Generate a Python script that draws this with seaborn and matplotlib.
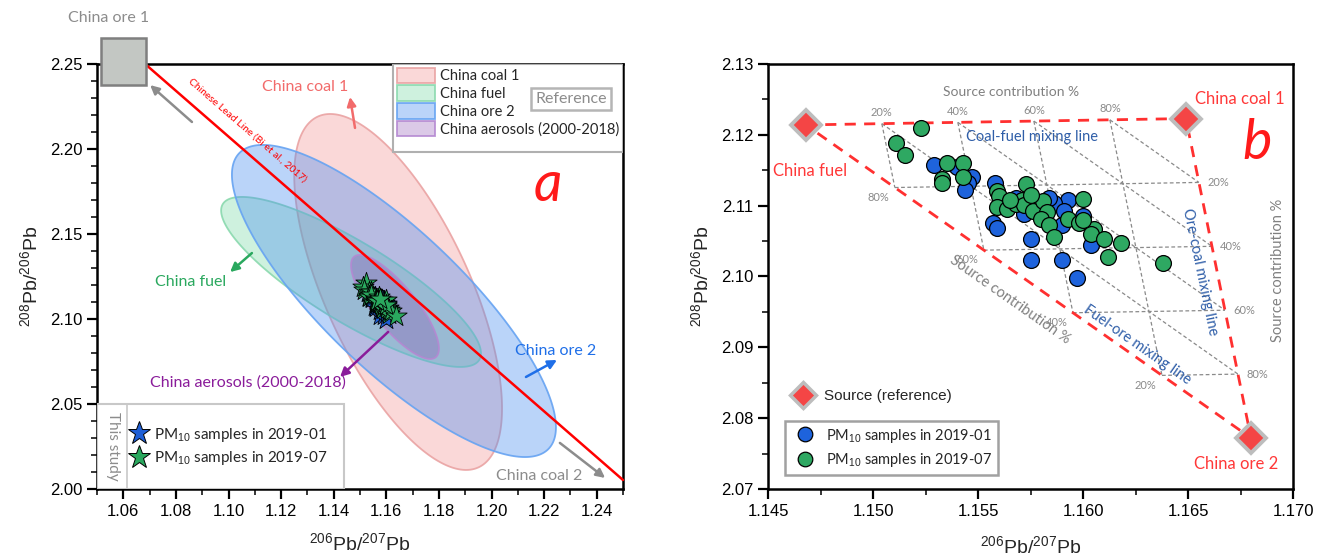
import numpy as np
import pandas as pd
import matplotlib
matplotlib.use("Agg")
import matplotlib.pyplot as plt
import matplotlib.colors as mcolors
import seaborn as sns
from matplotlib.patches import Rectangle, Patch
from matplotlib.lines import Line2D
from matplotlib.ticker import MultipleLocator

# ---------------- data ----------------
jan_x = [1.1529, 1.1540, 1.1547, 1.1545, 1.1544, 1.1558, 1.1557, 1.1559, 1.1575, 1.1575,
         1.1590, 1.1597, 1.1593, 1.1586, 1.1591, 1.1600, 1.1604, 1.1572, 1.1563, 1.1568,
         1.1580, 1.1590, 1.1584]
jan_y = [2.1157, 2.1154, 2.1141, 2.1132, 2.1122, 2.1132, 2.1075, 2.1068, 2.1053, 2.1024,
         2.1023, 2.0998, 2.1108, 2.1104, 2.1093, 2.1086, 2.1044, 2.1088, 2.1101, 2.1111,
         2.1101, 2.1073, 2.1111]
jul_x = [1.1523, 1.1511, 1.1515, 1.1535, 1.1543, 1.1533, 1.1533, 1.1543, 1.1573, 1.1559,
         1.1560, 1.1559, 1.1564, 1.1568, 1.1571, 1.1572, 1.1576, 1.1581, 1.1583, 1.1580,
         1.1584, 1.1586, 1.1593, 1.1598, 1.1600, 1.1605, 1.1604, 1.1610, 1.1612, 1.1618,
         1.1638, 1.1600, 1.1565, 1.1575]
jul_y = [2.1209, 2.1189, 2.1171, 2.1160, 2.1160, 2.1138, 2.1132, 2.1141, 2.1131, 2.1120,
         2.1114, 2.1098, 2.1096, 2.1103, 2.1108, 2.1101, 2.1092, 2.1106, 2.1091, 2.1081,
         2.1073, 2.1056, 2.1081, 2.1076, 2.1110, 2.1067, 2.1060, 2.1053, 2.1028, 2.1048,
         2.1019, 2.1080, 2.1108, 2.1115]

# end-member sources (panel b): fuel, coal 1, ore 2
source_names = ["China fuel", "China coal 1", "China ore 2"]
source_x = [1.1468, 1.1649, 1.1680]
source_y = [2.1214, 2.1223, 2.0772]

# confidence ellipses (panel a)
ell_names = ["China coal 1", "China fuel", "China ore 2", "China aerosols (2000-2018)"]
ell_cx = [1.1645, 1.1466, 1.1629, 1.1633]
ell_cy = [2.1159, 2.1218, 2.1106, 2.1071]
ell_sx = [0.0395, 0.0494, 0.0616, 0.0167]
ell_sy = [0.1047, 0.0500, 0.0918, 0.0306]
ell_rho = [-0.654, -0.84, -0.809, -0.80]

ore1_x = 1.0600
ore1_y = 2.2515

lead_x = [1.0683, 1.2500]
lead_y = [2.2500, 2.0053]

fractions = [0.2, 0.4, 0.6, 0.8]

# ---------------- style ----------------
sns.set_theme(style="ticks")
plt.rcParams["font.family"] = ["Liberation Sans", "DejaVu Sans"]
plt.rcParams["mathtext.fontset"] = "custom"
plt.rcParams["mathtext.rm"] = "Liberation Sans"
plt.rcParams["mathtext.it"] = "Liberation Sans:italic"
LAB = ["Lato", "DejaVu Sans"]

fig = plt.figure(figsize=(13.17, 5.58), dpi=100)
axL = fig.add_axes([97 / 1317, 69 / 558, 526 / 1317, 425 / 558])
axR = fig.add_axes([768 / 1317, 69 / 558, 525 / 1317, 425 / 558])

for ax in (axL, axR):
    for sp in ax.spines.values():
        sp.set_linewidth(1.8)
        sp.set_color("black")
    ax.tick_params(which="major", direction="out", length=7, width=1.6, labelsize=12,
                   top=False, right=False, color="black", labelcolor="black")
    ax.tick_params(which="minor", direction="out", length=4, width=1.3, top=False, right=False)

# ---------------- panel a ----------------
ell_face = [("#f08a8a", 0.33), ("#4fcf8a", 0.28), ("#4a8ef0", 0.38), ("#8a4fb0", 0.30)]
ell_edge = [("#eaa3a3", 0.9), ("#8ad9ae", 0.9), ("#66a3f2", 0.9), ("#b488d2", 0.9)]
tt = np.linspace(0, 2 * np.pi, 300)
handles_a = []
for i, name in enumerate(ell_names):
    ex = ell_cx[i] + ell_sx[i] * np.cos(tt)
    ey = ell_cy[i] + ell_sy[i] * (ell_rho[i] * np.cos(tt) + np.sqrt(1 - ell_rho[i] ** 2) * np.sin(tt))
    fc = mcolors.to_rgba(*ell_face[i])
    ec = mcolors.to_rgba(*ell_edge[i])
    axL.fill(ex, ey, facecolor=fc, edgecolor=ec, lw=1.3, zorder=2 + i * 0.1)
    handles_a.append(Patch(facecolor=fc, edgecolor=ec, lw=1.3, label=name))

axL.plot(lead_x, lead_y, color="#ff0000", lw=1.8, zorder=3, clip_on=False)
axL.text(1.1071, 2.2112, "Chinese Lead Line (Bi et al., 2017)", rotation=-41, color="#ff0000",
         fontsize=7.5, family=LAB, ha="center", va="center", rotation_mode="anchor")

sns.scatterplot(x=jan_x, y=jan_y, ax=axL, marker="*", s=260, color="#1f5fd6",
                edgecolor="black", linewidth=0.6, zorder=5, legend=False)
sns.scatterplot(x=jul_x, y=jul_y, ax=axL, marker="*", s=260, color="#2aa85e",
                edgecolor="black", linewidth=0.6, zorder=6, legend=False)

axL.add_patch(Rectangle((ore1_x - 0.0085, ore1_y - 0.0139), 0.0170, 0.0278, clip_on=False,
                        facecolor="#c3c7c3", edgecolor="#7f7f7f", lw=1.8, zorder=8))
axL.text(ore1_x - 0.0055, 2.277, "China ore 1", color="#8c8c8c", fontsize=11.5, family=LAB,
         ha="center", va="center", clip_on=False)

arrows_a = [((1.0702, 2.2376), (1.0861, 2.2159), "#8c8c8c"),
            ((1.1462, 2.2306), (1.1481, 2.2124), "#f26b6b"),
            ((1.1006, 2.1276), (1.1089, 2.1388), "#2aa85e"),
            ((1.1424, 2.0659), (1.1607, 2.0924), "#8a1c9a"),
            ((1.2249, 2.0759), (1.2131, 2.0659), "#1f6fe8"),
            ((1.2432, 2.0065), (1.2260, 2.0271), "#8c8c8c")]
for tip, start, c in arrows_a:
    axL.annotate("", xy=tip, xytext=start,
                 arrowprops=dict(arrowstyle="-|>", color=c, lw=1.8, mutation_scale=13,
                                 shrinkA=0, shrinkB=0), zorder=7)

labels_a = [(1.1291, 2.2365, "China coal 1", "#f26b6b"),
            (1.0854, 2.1218, "China fuel", "#2aa85e"),
            (1.1074, 2.0629, "China aerosols (2000-2018)", "#8a1c9a"),
            (1.2245, 2.0812, "China ore 2", "#1f6fe8"),
            (1.2181, 2.0076, "China coal 2", "#8c8c8c")]
for x, y, s, c in labels_a:
    axL.text(x, y, s, color=c, fontsize=11.5, family=LAB, ha="center", va="center", zorder=7)
axL.text(1.2215, 2.1788, "a", color="#ff1a1a", fontsize=40, style="italic", family=LAB,
         ha="center", va="center")

# legend (upper right) for ellipses
axL.add_patch(Rectangle((0.563, 0.793), 0.437, 0.207, transform=axL.transAxes,
                        facecolor="white", edgecolor="#b0b0b0", lw=1.5, zorder=9))
legA = axL.legend(handles=handles_a, loc="upper left", bbox_to_anchor=(0.568, 0.995),
                  frameon=False, fontsize=10.5, handlelength=2.6, handleheight=1.3,
                  labelspacing=0.12, handletextpad=0.3, borderpad=0.1, borderaxespad=0,
                  prop={"family": LAB, "size": 10.5})
legA.set_zorder(10)
axL.add_artist(legA)
axL.text(0.901, 0.918, "Reference", transform=axL.transAxes, color="#8c8c8c", fontsize=11.5,
         family=LAB, ha="center", va="center", zorder=11,
         bbox=dict(boxstyle="square,pad=0.25", facecolor="white", edgecolor="#b5b5b5", lw=1.8))

# legend (lower left) for this study
axL.add_patch(Rectangle((0.0, 0.0), 0.47, 0.2, transform=axL.transAxes,
                        facecolor="white", edgecolor="#c8c8c8", lw=1.5, zorder=9))
axL.plot([0.057, 0.057], [0.0, 0.2], transform=axL.transAxes, color="#c8c8c8", lw=1.2, zorder=10)
axL.text(0.030, 0.10, "This study", transform=axL.transAxes, rotation=270, color="#8c8c8c",
         fontsize=11, family=LAB, ha="center", va="center", zorder=11)
star_handles = [Line2D([], [], ls="none", marker="*", markersize=17, mfc="#1f5fd6", mec="black",
                       mew=0.7, label="PM$_{10}$ samples in 2019-01"),
                Line2D([], [], ls="none", marker="*", markersize=17, mfc="#2aa85e", mec="black",
                       mew=0.7, label="PM$_{10}$ samples in 2019-07")]
legS = axL.legend(handles=star_handles, loc="center left", bbox_to_anchor=(0.062, 0.10),
                  frameon=False, handlelength=1.2, handletextpad=0.4, labelspacing=0.35,
                  borderpad=0, borderaxespad=0, prop={"family": LAB, "size": 11})
legS.set_zorder(12)

axL.set_xlim(1.05, 1.25)
axL.set_ylim(2.00, 2.25)
axL.xaxis.set_major_locator(MultipleLocator(0.02))
axL.xaxis.set_minor_locator(MultipleLocator(0.01))
axL.yaxis.set_major_locator(MultipleLocator(0.05))
axL.yaxis.set_minor_locator(MultipleLocator(0.01))
axL.xaxis.set_major_formatter(matplotlib.ticker.FormatStrFormatter("%.2f"))
axL.yaxis.set_major_formatter(matplotlib.ticker.FormatStrFormatter("%.2f"))
axL.set_xlabel("$^{206}$Pb/$^{207}$Pb", fontsize=14, labelpad=10)
axL.set_ylabel("$^{208}$Pb/$^{206}$Pb", fontsize=14, labelpad=6)

# ---------------- panel b ----------------
F = np.array([source_x[0], source_y[0]])
C = np.array([source_x[1], source_y[1]])
O = np.array([source_x[2], source_y[2]])
grid_kw = dict(color="#8a8a8a", lw=0.9, ls=(0, (3, 2)), zorder=1)
for t in fractions:
    for p, q in [(F + t * (O - F), C + t * (O - C)),
                 (F + t * (C - F), F + t * (O - F)),
                 (F + t * (C - F), C + (1 - t) * (O - C))]:
        axR.plot([p[0], q[0]], [p[1], q[1]], **grid_kw)
tri = np.array([F, C, O, F])
axR.plot(tri[:, 0], tri[:, 1], color="#ff3030", lw=2.0, ls=(0, (4, 3)), zorder=2)

pct_kw = dict(color="#8a8a8a", fontsize=8, family=LAB, textcoords="offset points")
for t in fractions:
    lab = f"{round(t * 100)}%"
    axR.annotate(lab, F + t * (C - F), xytext=(0, 4), ha="center", va="bottom", **pct_kw)
    axR.annotate(lab, C + t * (O - C), xytext=(6, 0), ha="left", va="center", **pct_kw)
    axR.annotate(f"{round((1 - t) * 100)}%", F + t * (O - F), xytext=(-12, -7), ha="center",
                 va="center", **pct_kw)

sns.scatterplot(x=jan_x, y=jan_y, ax=axR, s=130, color="#1e63dc", edgecolor="black",
                linewidth=0.9, zorder=4, legend=False)
sns.scatterplot(x=jul_x, y=jul_y, ax=axR, s=130, color="#2ea862", edgecolor="black",
                linewidth=0.9, zorder=5, legend=False)
axR.plot(source_x, source_y, ls="none", marker="D", markersize=15, mfc="#f44545",
         mec="#bdbdbd", mew=2.8, zorder=6, clip_on=False)

src_lab = [(1.1470, 2.1149, "China fuel"), (1.16748, 2.1250, "China coal 1"),
           (1.1673, 2.0735, "China ore 2")]
for x, y, s in src_lab:
    axR.text(x, y, s, color="#ff3838", fontsize=12, family=LAB, ha="center", va="center")
axR.text(1.1683, 2.1188, "b", color="#ff1a1a", fontsize=40, style="italic", family=LAB,
         ha="center", va="center")

grey = "#808080"
axR.text(1.15657, 2.1260, "Source contribution %", color=grey, fontsize=10, family=LAB,
         ha="center", va="center")
axR.text(1.16929, 2.1009, "Source contribution %", color=grey, fontsize=10.5, family=LAB,
         ha="center", va="center", rotation=90)
axR.text(1.15652, 2.0967, "Source contribution %", color=grey, fontsize=10.5, family=LAB,
         ha="center", va="center", rotation=-35, rotation_mode="anchor")
blue = "#2f5ea8"
axR.text(1.15757, 2.1197, "Coal-fuel mixing line", color=blue, fontsize=10.5, family=LAB,
         ha="center", va="center")
axR.text(1.16557, 2.1006, "Ore-coal mixing line", color=blue, fontsize=10.5, family=LAB,
         ha="center", va="center", rotation=-78.3, rotation_mode="anchor")
axR.text(1.16257, 2.0903, "Fuel-ore mixing line", color=blue, fontsize=10.5, family=LAB,
         ha="center", va="center", rotation=-35, rotation_mode="anchor")

src_handle = [Line2D([], [], ls="none", marker="D", markersize=13, mfc="#f44545", mec="#bdbdbd",
                     mew=2.5, label="Source (reference)")]
legR1 = axR.legend(handles=src_handle, loc="center left", bbox_to_anchor=(0.045, 0.219),
                   frameon=False, handlelength=1.5, handletextpad=0.6, borderpad=0,
                   borderaxespad=0, prop={"size": 11})
axR.add_artist(legR1)
circ_handles = [Line2D([], [], ls="none", marker="o", markersize=10.5, mfc="#1e63dc", mec="black",
                       mew=0.9, label="PM$_{10}$ samples in 2019-01"),
                Line2D([], [], ls="none", marker="o", markersize=10.5, mfc="#2ea862", mec="black",
                       mew=0.9, label="PM$_{10}$ samples in 2019-07")]
legR2 = axR.legend(handles=circ_handles, loc="lower left", bbox_to_anchor=(0.032, 0.033),
                   frameon=True, fancybox=False, edgecolor="#8a8a8a", handlelength=2.0,
                   handletextpad=0.4, labelspacing=0.45, borderpad=0.4, borderaxespad=0,
                   prop={"family": LAB, "size": 10.5})
legR2.get_frame().set_linewidth(1.8)

axR.set_xlim(1.145, 1.170)
axR.set_ylim(2.07, 2.13)
axR.xaxis.set_major_locator(MultipleLocator(0.005))
axR.xaxis.set_minor_locator(MultipleLocator(0.0025))
axR.yaxis.set_major_locator(MultipleLocator(0.01))
axR.yaxis.set_minor_locator(MultipleLocator(0.005))
axR.xaxis.set_major_formatter(matplotlib.ticker.FormatStrFormatter("%.3f"))
axR.yaxis.set_major_formatter(matplotlib.ticker.FormatStrFormatter("%.2f"))
axR.set_xlabel("$^{206}$Pb/$^{207}$Pb", fontsize=14, labelpad=12)
axR.set_ylabel("$^{208}$Pb/$^{206}$Pb", fontsize=14, labelpad=6)

fig.savefig("out.png", dpi=100, facecolor="white")
